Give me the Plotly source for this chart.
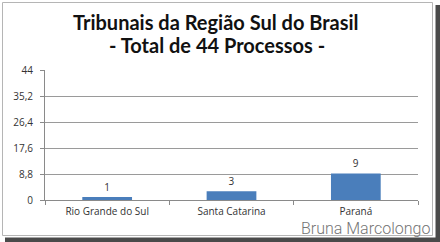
import plotly.graph_objects as go

categories = ["Rio Grande do Sul", "Santa Catarina", "Paraná"]
values = [1, 3, 9]
tick_vals = [0, 8.8, 17.6, 26.4, 35.2, 44]
tick_text = ["0", "8,8", "17,6", "26,4", "35,2", "44"]
title_lines = ["Tribunais da Região Sul do Brasil", "- Total de 44 Processos -"]
watermark = "Bruna Marcolongo"

W, H = 440, 242
L, R, T, B = 45, 22, 70, 42
pw, ph = W - L - R, H - T - B

def px(x):
    return (x - L) / pw

def py(y):
    return (H - B - y) / ph

fig = go.Figure()
fig.add_trace(go.Bar(
    x=categories, y=values, text=[str(v) for v in values],
    textposition="outside", cliponaxis=False,
    textfont=dict(size=10, color="#333", family="Open Sans"),
    marker=dict(color="#4a7ebb", line=dict(width=0)),
    width=0.4,
))

shapes = [
    dict(type="rect", xref="paper", yref="paper", x0=px(5), x1=px(441), y0=py(243), y1=py(5),
         fillcolor="#4a4a4a", line=dict(width=0), layer="below"),
    dict(type="rect", xref="paper", yref="paper", x0=px(-1), x1=px(435.5), y0=py(237.5), y1=py(-1),
         fillcolor="white", line=dict(width=0), layer="below"),
    dict(type="rect", xref="paper", yref="paper", x0=px(2.5), x1=px(432.5), y0=py(235.5), y1=py(2.5),
         fillcolor="white", line=dict(color="#b5b5b5", width=1), layer="below"),
]

annotations = [
    dict(text=title_lines[0], xref="paper", yref="paper", x=px(216), y=py(22), showarrow=False,
         font=dict(size=20, family="Lato", color="#111", weight="bold"), xanchor="center", yanchor="middle"),
    dict(text=title_lines[1], xref="paper", yref="paper", x=px(217), y=py(45), showarrow=False,
         font=dict(size=20, family="Lato", color="#111", weight="bold"), xanchor="center", yanchor="middle"),
    dict(text=watermark, xref="paper", yref="paper", x=px(432), y=py(228), showarrow=False,
         font=dict(size=16, family="Roboto", color="#757575", weight=300), xanchor="right", yanchor="middle"),
]

fig.update_layout(
    width=W, height=H, margin=dict(l=L, r=R, t=T, b=B),
    paper_bgcolor="white", plot_bgcolor="rgba(0,0,0,0)",
    showlegend=False, shapes=shapes, annotations=annotations,
    xaxis=dict(showline=True, linecolor="#8a8a8a", linewidth=1, ticks="outside", ticklen=4,
               tickcolor="#8a8a8a", tickson="boundaries", showgrid=False, ticklabelstandoff=2,
               tickfont=dict(size=10, color="#333", family="Open Sans")),
    yaxis=dict(range=[0, 44], tickvals=tick_vals, ticktext=tick_text, showgrid=True,
               gridcolor="#9a9a9a", gridwidth=1, showline=True, linecolor="#8a8a8a",
               ticks="outside", ticklen=4, tickcolor="#8a8a8a", zeroline=False, ticklabelstandoff=5,
               tickfont=dict(size=10, color="#333", family="Open Sans")),
)

fig.write_html("out.html")
